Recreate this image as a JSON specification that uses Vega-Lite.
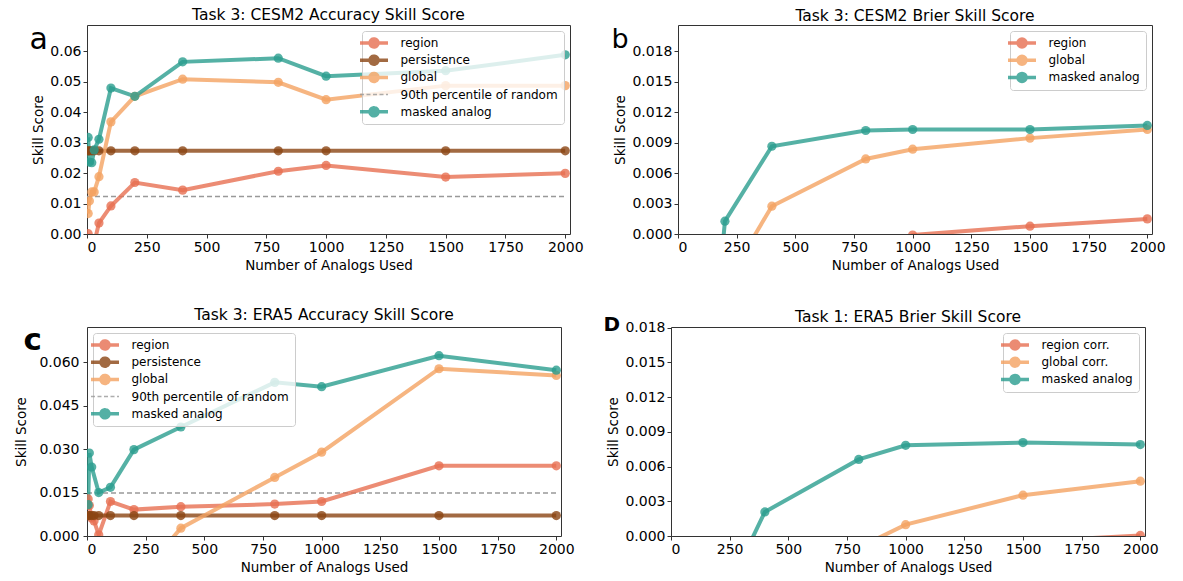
{
  "$schema": "https://vega.github.io/schema/vega-lite/v6.json",
  "padding": {"left": 14, "top": 7, "right": 5, "bottom": 5},
  "background": "white",
  "datasets": {
    "a": [
      {"n": 5, "score": 0.0001, "series": "region"}, {"n": 10, "score": -0.004, "series": "region"}, {"n": 20, "score": -0.006, "series": "region"}, {"n": 30, "score": -0.003, "series": "region"}, {"n": 50, "score": 0.0036, "series": "region"}, {"n": 100, "score": 0.0092, "series": "region"}, {"n": 200, "score": 0.0169, "series": "region"}, {"n": 400, "score": 0.0144, "series": "region"}, {"n": 800, "score": 0.0206, "series": "region"}, {"n": 1000, "score": 0.0225, "series": "region"}, {"n": 1500, "score": 0.0187, "series": "region"}, {"n": 2000, "score": 0.0199, "series": "region"},
      {"n": 5, "score": 0.0273, "series": "persistence"}, {"n": 10, "score": 0.0273, "series": "persistence"}, {"n": 20, "score": 0.0273, "series": "persistence"}, {"n": 30, "score": 0.0273, "series": "persistence"}, {"n": 50, "score": 0.0273, "series": "persistence"}, {"n": 100, "score": 0.0273, "series": "persistence"}, {"n": 200, "score": 0.0273, "series": "persistence"}, {"n": 400, "score": 0.0273, "series": "persistence"}, {"n": 800, "score": 0.0273, "series": "persistence"}, {"n": 1000, "score": 0.0273, "series": "persistence"}, {"n": 1500, "score": 0.0273, "series": "persistence"}, {"n": 2000, "score": 0.0273, "series": "persistence"},
      {"n": 5, "score": 0.0067, "series": "global"}, {"n": 10, "score": 0.0108, "series": "global"}, {"n": 20, "score": 0.0138, "series": "global"}, {"n": 30, "score": 0.0138, "series": "global"}, {"n": 50, "score": 0.0188, "series": "global"}, {"n": 100, "score": 0.0368, "series": "global"}, {"n": 200, "score": 0.0452, "series": "global"}, {"n": 400, "score": 0.0508, "series": "global"}, {"n": 800, "score": 0.0498, "series": "global"}, {"n": 1000, "score": 0.0441, "series": "global"}, {"n": 1500, "score": 0.0487, "series": "global"}, {"n": 2000, "score": 0.0487, "series": "global"},
      {"n": 5, "score": 0.0317, "series": "masked analog"}, {"n": 10, "score": 0.0236, "series": "masked analog"}, {"n": 20, "score": 0.0234, "series": "masked analog"}, {"n": 30, "score": 0.0276, "series": "masked analog"}, {"n": 50, "score": 0.0311, "series": "masked analog"}, {"n": 100, "score": 0.0479, "series": "masked analog"}, {"n": 200, "score": 0.0452, "series": "masked analog"}, {"n": 400, "score": 0.0565, "series": "masked analog"}, {"n": 800, "score": 0.0577, "series": "masked analog"}, {"n": 1000, "score": 0.0518, "series": "masked analog"}, {"n": 1500, "score": 0.0536, "series": "masked analog"}, {"n": 2000, "score": 0.0588, "series": "masked analog"}
    ],
    "rand_a": [
      {"n": 0, "score": 0.0123, "series": "90th percentile of random"}, {"n": 2000, "score": 0.0123, "series": "90th percentile of random"}
    ],
    "b": [
      {"n": 200, "score": -0.012, "series": "region"}, {"n": 400, "score": -0.008, "series": "region"}, {"n": 800, "score": -0.003, "series": "region"}, {"n": 1000, "score": -0.0001, "series": "region"}, {"n": 1500, "score": 0.00077, "series": "region"}, {"n": 2000, "score": 0.00149, "series": "region"},
      {"n": 100, "score": -0.015, "series": "global"}, {"n": 200, "score": -0.0051, "series": "global"}, {"n": 400, "score": 0.00274, "series": "global"}, {"n": 800, "score": 0.0074, "series": "global"}, {"n": 1000, "score": 0.00836, "series": "global"}, {"n": 1500, "score": 0.00945, "series": "global"}, {"n": 2000, "score": 0.0103, "series": "global"},
      {"n": 50, "score": -0.05, "series": "masked analog"}, {"n": 100, "score": -0.024, "series": "masked analog"}, {"n": 200, "score": 0.00126, "series": "masked analog"}, {"n": 400, "score": 0.00865, "series": "masked analog"}, {"n": 800, "score": 0.0102, "series": "masked analog"}, {"n": 1000, "score": 0.0103, "series": "masked analog"}, {"n": 1500, "score": 0.0103, "series": "masked analog"}, {"n": 2000, "score": 0.0107, "series": "masked analog"}
    ],
    "c": [
      {"n": 5, "score": 0.0128, "series": "region"}, {"n": 10, "score": 0.0105, "series": "region"}, {"n": 20, "score": 0.0062, "series": "region"}, {"n": 30, "score": 0.0052, "series": "region"}, {"n": 50, "score": 0.0004, "series": "region"}, {"n": 100, "score": 0.0119, "series": "region"}, {"n": 200, "score": 0.0091, "series": "region"}, {"n": 400, "score": 0.0101, "series": "region"}, {"n": 800, "score": 0.011, "series": "region"}, {"n": 1000, "score": 0.0119, "series": "region"}, {"n": 1500, "score": 0.0242, "series": "region"}, {"n": 2000, "score": 0.0242, "series": "region"},
      {"n": 5, "score": 0.00705, "series": "persistence"}, {"n": 10, "score": 0.00705, "series": "persistence"}, {"n": 20, "score": 0.00705, "series": "persistence"}, {"n": 30, "score": 0.00705, "series": "persistence"}, {"n": 50, "score": 0.00705, "series": "persistence"}, {"n": 100, "score": 0.00705, "series": "persistence"}, {"n": 200, "score": 0.00705, "series": "persistence"}, {"n": 400, "score": 0.00705, "series": "persistence"}, {"n": 800, "score": 0.00705, "series": "persistence"}, {"n": 1000, "score": 0.00705, "series": "persistence"}, {"n": 1500, "score": 0.00705, "series": "persistence"}, {"n": 2000, "score": 0.00705, "series": "persistence"},
      {"n": 100, "score": -0.03, "series": "global"}, {"n": 200, "score": -0.0164, "series": "global"}, {"n": 400, "score": 0.0027, "series": "global"}, {"n": 800, "score": 0.0202, "series": "global"}, {"n": 1000, "score": 0.0289, "series": "global"}, {"n": 1500, "score": 0.0577, "series": "global"}, {"n": 2000, "score": 0.0554, "series": "global"},
      {"n": 5, "score": 0.0108, "series": "masked analog"}, {"n": 10, "score": 0.0286, "series": "masked analog"}, {"n": 20, "score": 0.0238, "series": "masked analog"}, {"n": 50, "score": 0.015, "series": "masked analog"}, {"n": 100, "score": 0.0168, "series": "masked analog"}, {"n": 200, "score": 0.0298, "series": "masked analog"}, {"n": 400, "score": 0.0376, "series": "masked analog"}, {"n": 800, "score": 0.053, "series": "masked analog"}, {"n": 1000, "score": 0.0515, "series": "masked analog"}, {"n": 1500, "score": 0.0622, "series": "masked analog"}, {"n": 2000, "score": 0.0572, "series": "masked analog"}
    ],
    "rand_c": [
      {"n": 0, "score": 0.0148, "series": "90th percentile of random"}, {"n": 2000, "score": 0.0148, "series": "90th percentile of random"}
    ],
    "d": [
      {"n": 1000, "score": -0.002, "series": "region corr."}, {"n": 1500, "score": -0.0005, "series": "region corr."}, {"n": 2000, "score": 0.00005, "series": "region corr."},
      {"n": 400, "score": -0.005, "series": "global corr."}, {"n": 800, "score": -0.001, "series": "global corr."}, {"n": 1000, "score": 0.00098, "series": "global corr."}, {"n": 1500, "score": 0.00353, "series": "global corr."}, {"n": 2000, "score": 0.00474, "series": "global corr."},
      {"n": 200, "score": -0.0064, "series": "masked analog"}, {"n": 400, "score": 0.00208, "series": "masked analog"}, {"n": 800, "score": 0.00662, "series": "masked analog"}, {"n": 1000, "score": 0.00784, "series": "masked analog"}, {"n": 1500, "score": 0.00807, "series": "masked analog"}, {"n": 2000, "score": 0.0079, "series": "masked analog"}
    ]
  },
  "resolve": {"scale": {"color": "independent"}, "legend": {"color": "independent"}},
  "spacing": 35,
  "vconcat": [
    {
      "resolve": {"scale": {"color": "independent"}, "legend": {"color": "independent"}},
      "spacing": 26,
      "hconcat": [
        {
          "width": 483, "height": 209,
          "title": "Task 3: CESM2 Accuracy Skill Score",
          "resolve": {"axis": {"x": "independent"}},
          "layer": [
            {
              "data": {"name": "rand_a"},
              "mark": {"type": "line", "strokeDash": [5, 3], "strokeWidth": 1.5, "clip": true},
              "encoding": {
                "x": {"field": "n", "type": "quantitative", "scale": {"domain": [0, 2020], "nice": false, "zero": false}, "axis": {"values": [0, 250, 500, 750, 1000, 1250, 1500, 1750, 2000], "tickCount": 30, "format": "d", "title": "Number of Analogs Used"}},
                "y": {"field": "score", "type": "quantitative", "scale": {"domain": [0, 0.0686], "nice": false, "zero": false}, "axis": {"values": [0, 0.01, 0.02, 0.03, 0.04, 0.05, 0.06], "tickCount": 30, "format": ".2f", "title": "Skill Score"}},
                "color": {"field": "series", "type": "nominal", "title": null,
                  "scale": {"domain": ["region", "persistence", "global", "90th percentile of random", "masked analog"], "range": ["#E76F51", "#8B4513", "#F4A261", "#999999", "#2A9D8F"]},
                  "legend": {"orient": "top-right",
                    "encode": {"symbols": {"update": {
                      "shape": {"signal": "datum.value === '90th percentile of random' ? 'M-3.5,0L3.5,0' : 'M-3.5,0L3.5,0M1,0A1,1,0,1,1,-1,0A1,1,0,1,1,1,0Z'"},
                      "strokeDash": {"signal": "datum.value === '90th percentile of random' ? [4, 2.5] : [1, 0]"},
                      "strokeWidth": {"signal": "datum.value === '90th percentile of random' ? 1.5 : 3.5"},
                      "strokeJoin": {"value": "round"},
                      "stroke": {"signal": "indexof(datum.value,'region')===0 ? '#E76F51' : datum.value==='persistence' ? '#8B4513' : indexof(datum.value,'global')===0 ? '#F4A261' : datum.value==='90th percentile of random' ? '#999999' : '#2A9D8F'"},
                      "fill": {"signal": "indexof(datum.value,'region')===0 ? '#E76F51' : datum.value==='persistence' ? '#8B4513' : indexof(datum.value,'global')===0 ? '#F4A261' : datum.value==='90th percentile of random' ? '#999999' : '#2A9D8F'"},
                      "opacity": {"value": 0.8}
                    }}}
                  }
                }
              }
            },
            {
              "data": {"name": "a"},
              "mark": {"type": "line", "strokeWidth": 4, "opacity": 0.8, "clip": true},
              "encoding": {
                "x": {"field": "n", "type": "quantitative", "axis": null},
                "y": {"field": "score", "type": "quantitative"},
                "color": {"field": "series", "type": "nominal"}
              }
            },
            {
              "data": {"name": "a"},
              "mark": {"type": "point", "filled": true, "size": 85, "opacity": 0.8, "clip": true},
              "encoding": {
                "x": {"field": "n", "type": "quantitative", "axis": {"orient": "top", "labels": false, "ticks": false, "domain": false, "title": "a", "titleFontSize": 30, "titleFontWeight": "normal", "titleX": -58, "titleY": 23, "titleAlign": "left", "titleBaseline": "alphabetic", "titleAngle": 0}},
                "y": {"field": "score", "type": "quantitative"},
                "color": {"field": "series", "type": "nominal"}
              }
            }
          ]
        },
        {
          "width": 474, "height": 209,
          "title": "Task 3: CESM2 Brier Skill Score",
          "resolve": {"axis": {"x": "independent"}},
          "data": {"name": "b"},
          "layer": [
            {
              "mark": {"type": "line", "strokeWidth": 4, "opacity": 0.8, "clip": true},
              "encoding": {
                "x": {"field": "n", "type": "quantitative", "scale": {"domain": [0, 2020], "nice": false, "zero": false}, "axis": {"values": [0, 250, 500, 750, 1000, 1250, 1500, 1750, 2000], "tickCount": 30, "format": "d", "title": "Number of Analogs Used"}},
                "y": {"field": "score", "type": "quantitative", "scale": {"domain": [0, 0.0206], "nice": false, "zero": false}, "axis": {"values": [0, 0.003, 0.006, 0.009, 0.012, 0.015, 0.018], "tickCount": 30, "format": ".3f", "title": "Skill Score"}},
                "color": {"field": "series", "type": "nominal", "title": null,
                  "scale": {"domain": ["region", "global", "masked analog"], "range": ["#E76F51", "#F4A261", "#2A9D8F"]},
                  "legend": {"orient": "top-right",
                    "encode": {"symbols": {"update": {
                      "shape": {"value": "M-3.5,0L3.5,0M1,0A1,1,0,1,1,-1,0A1,1,0,1,1,1,0Z"},
                      "strokeWidth": {"value": 3.5},
                      "strokeJoin": {"value": "round"},
                      "stroke": {"signal": "indexof(datum.value,'region')===0 ? '#E76F51' : indexof(datum.value,'global')===0 ? '#F4A261' : '#2A9D8F'"},
                      "fill": {"signal": "indexof(datum.value,'region')===0 ? '#E76F51' : indexof(datum.value,'global')===0 ? '#F4A261' : '#2A9D8F'"},
                      "opacity": {"value": 0.8}
                    }}}
                  }
                }
              }
            },
            {
              "mark": {"type": "point", "filled": true, "size": 85, "opacity": 0.8, "clip": true},
              "encoding": {
                "x": {"field": "n", "type": "quantitative", "axis": {"orient": "top", "labels": false, "ticks": false, "domain": false, "title": "b", "titleFontSize": 27, "titleFontWeight": "normal", "titleX": -67, "titleY": 22, "titleAlign": "left", "titleBaseline": "alphabetic", "titleAngle": 0}},
                "y": {"field": "score", "type": "quantitative"},
                "color": {"field": "series", "type": "nominal"}
              }
            }
          ]
        }
      ]
    },
    {
      "resolve": {"scale": {"color": "independent"}, "legend": {"color": "independent"}},
      "spacing": 27,
      "hconcat": [
        {
          "width": 474, "height": 209,
          "title": "Task 3: ERA5 Accuracy Skill Score",
          "resolve": {"axis": {"x": "independent"}},
          "layer": [
            {
              "data": {"name": "rand_c"},
              "mark": {"type": "line", "strokeDash": [5, 3], "strokeWidth": 1.5, "clip": true},
              "encoding": {
                "x": {"field": "n", "type": "quantitative", "scale": {"domain": [0, 2020], "nice": false, "zero": false}, "axis": {"values": [0, 250, 500, 750, 1000, 1250, 1500, 1750, 2000], "tickCount": 30, "format": "d", "title": "Number of Analogs Used"}},
                "y": {"field": "score", "type": "quantitative", "scale": {"domain": [0, 0.0721], "nice": false, "zero": false}, "axis": {"values": [0, 0.015, 0.03, 0.045, 0.06], "tickCount": 30, "format": ".3f", "title": "Skill Score", "labelPadding": 4, "titlePadding": 10}},
                "color": {"field": "series", "type": "nominal", "title": null,
                  "scale": {"domain": ["region", "persistence", "global", "90th percentile of random", "masked analog"], "range": ["#E76F51", "#8B4513", "#F4A261", "#999999", "#2A9D8F"]},
                  "legend": {"orient": "top-left",
                    "encode": {"symbols": {"update": {
                      "shape": {"signal": "datum.value === '90th percentile of random' ? 'M-3.5,0L3.5,0' : 'M-3.5,0L3.5,0M1,0A1,1,0,1,1,-1,0A1,1,0,1,1,1,0Z'"},
                      "strokeDash": {"signal": "datum.value === '90th percentile of random' ? [4, 2.5] : [1, 0]"},
                      "strokeWidth": {"signal": "datum.value === '90th percentile of random' ? 1.5 : 3.5"},
                      "strokeJoin": {"value": "round"},
                      "stroke": {"signal": "indexof(datum.value,'region')===0 ? '#E76F51' : datum.value==='persistence' ? '#8B4513' : indexof(datum.value,'global')===0 ? '#F4A261' : datum.value==='90th percentile of random' ? '#999999' : '#2A9D8F'"},
                      "fill": {"signal": "indexof(datum.value,'region')===0 ? '#E76F51' : datum.value==='persistence' ? '#8B4513' : indexof(datum.value,'global')===0 ? '#F4A261' : datum.value==='90th percentile of random' ? '#999999' : '#2A9D8F'"},
                      "opacity": {"value": 0.8}
                    }}}
                  }
                }
              }
            },
            {
              "data": {"name": "c"},
              "mark": {"type": "line", "strokeWidth": 4, "opacity": 0.8, "clip": true},
              "encoding": {
                "x": {"field": "n", "type": "quantitative", "axis": null},
                "y": {"field": "score", "type": "quantitative"},
                "color": {"field": "series", "type": "nominal"}
              }
            },
            {
              "data": {"name": "c"},
              "mark": {"type": "point", "filled": true, "size": 85, "opacity": 0.8, "clip": true},
              "encoding": {
                "x": {"field": "n", "type": "quantitative", "axis": {"orient": "top", "labels": false, "ticks": false, "domain": false, "title": "c", "titleFontSize": 31, "titleFontWeight": "bold", "titleX": -64, "titleY": 22, "titleAlign": "left", "titleBaseline": "alphabetic", "titleAngle": 0}},
                "y": {"field": "score", "type": "quantitative"},
                "color": {"field": "series", "type": "nominal"}
              }
            }
          ]
        },
        {
          "width": 474, "height": 209,
          "title": {"text": "Task 1: ERA5 Brier Skill Score", "dy": 12},
          "resolve": {"axis": {"x": "independent"}},
          "data": {"name": "d"},
          "layer": [
            {
              "mark": {"type": "line", "strokeWidth": 4, "opacity": 0.8, "clip": true},
              "encoding": {
                "x": {"field": "n", "type": "quantitative", "scale": {"domain": [0, 2020], "nice": false, "zero": false}, "axis": {"values": [0, 250, 500, 750, 1000, 1250, 1500, 1750, 2000], "tickCount": 30, "format": "d", "title": "Number of Analogs Used"}},
                "y": {"field": "score", "type": "quantitative", "scale": {"domain": [0, 0.01806], "nice": false, "zero": false}, "axis": {"values": [0, 0.003, 0.006, 0.009, 0.012, 0.015, 0.018], "tickCount": 30, "format": ".3f", "title": "Skill Score"}},
                "color": {"field": "series", "type": "nominal", "title": null,
                  "scale": {"domain": ["region corr.", "global corr.", "masked analog"], "range": ["#E76F51", "#F4A261", "#2A9D8F"]},
                  "legend": {"orient": "top-right",
                    "encode": {"symbols": {"update": {
                      "shape": {"value": "M-3.5,0L3.5,0M1,0A1,1,0,1,1,-1,0A1,1,0,1,1,1,0Z"},
                      "strokeWidth": {"value": 3.5},
                      "strokeJoin": {"value": "round"},
                      "stroke": {"signal": "indexof(datum.value,'region')===0 ? '#E76F51' : indexof(datum.value,'global')===0 ? '#F4A261' : '#2A9D8F'"},
                      "fill": {"signal": "indexof(datum.value,'region')===0 ? '#E76F51' : indexof(datum.value,'global')===0 ? '#F4A261' : '#2A9D8F'"},
                      "opacity": {"value": 0.8}
                    }}}
                  }
                }
              }
            },
            {
              "mark": {"type": "point", "filled": true, "size": 85, "opacity": 0.8, "clip": true},
              "encoding": {
                "x": {"field": "n", "type": "quantitative", "axis": {"orient": "top", "labels": false, "ticks": false, "domain": false, "title": "D", "titleFontSize": 20, "titleFontWeight": "bold", "titleX": -68, "titleY": 3, "titleAlign": "left", "titleBaseline": "alphabetic", "titleAngle": 0}},
                "y": {"field": "score", "type": "quantitative"},
                "color": {"field": "series", "type": "nominal"}
              }
            }
          ]
        }
      ]
    }
  ],
  "config": {
    "font": "DejaVu Sans",
    "view": {"stroke": "#333", "strokeWidth": 1},
    "axis": {"labelFontSize": 14, "titleFontSize": 13.5, "titleFontWeight": "normal", "labelColor": "#000", "titleColor": "#000", "domain": false, "grid": false, "tickColor": "#333", "tickSize": 4, "labelPadding": 2, "titlePadding": 4, "labelOverlap": false},
    "title": {"fontSize": 15.5, "fontWeight": "normal", "offset": 1, "frame": "group", "color": "#000"},
    "legend": {"offset": 6, "padding": 6, "fillColor": "rgba(255,255,255,0.8)", "strokeColor": "#cccccc", "cornerRadius": 3, "labelFontSize": 12, "labelColor": "#000", "symbolSize": 64, "labelOffset": 20.5, "rowPadding": 5.2, "symbolType": "M-3.5,0L3.5,0M1,0A1,1,0,1,1,-1,0A1,1,0,1,1,1,0Z", "symbolStrokeWidth": 3.5, "symbolOpacity": 0.8}
  }
}
